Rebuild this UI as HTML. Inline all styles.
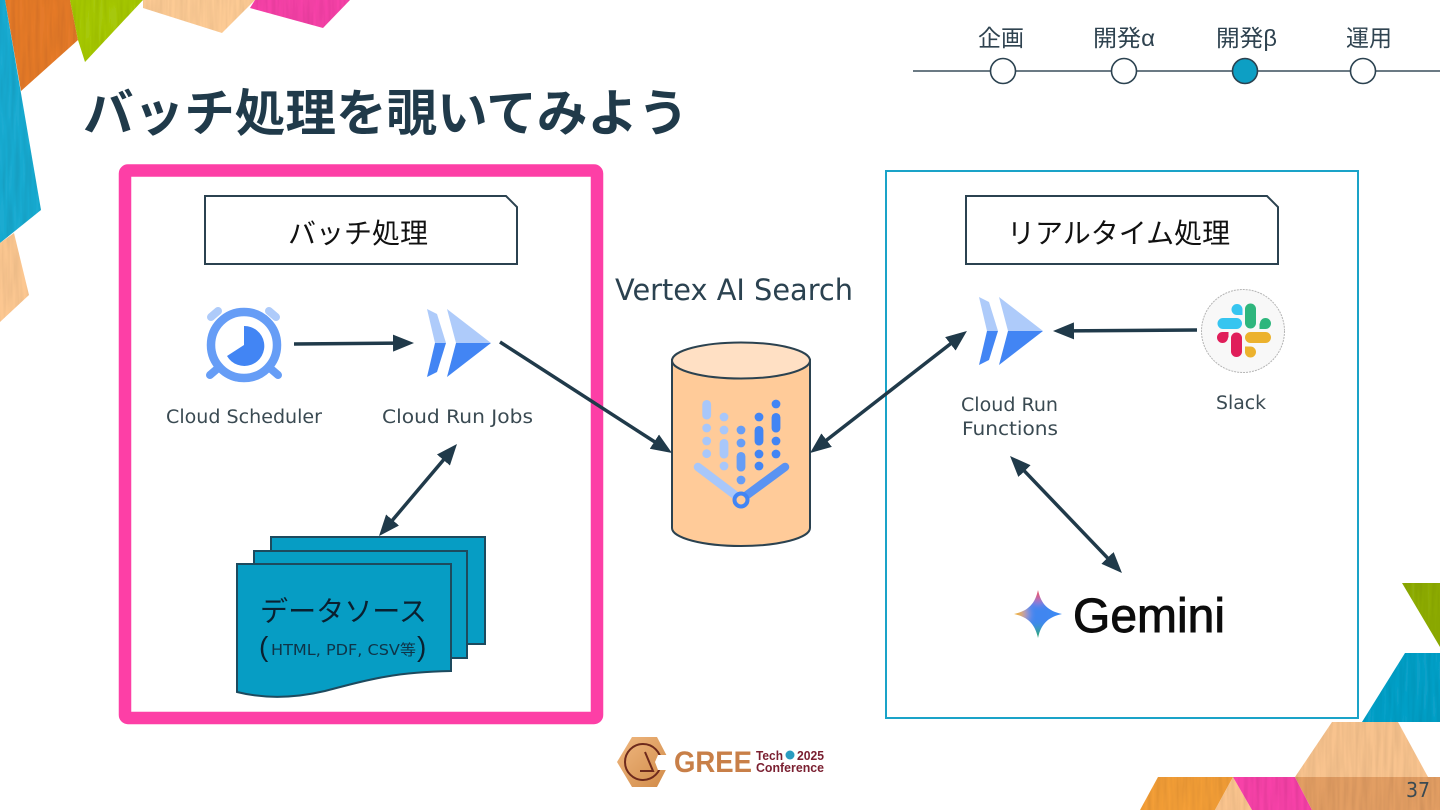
<!DOCTYPE html>
<html lang="ja"><head><meta charset="utf-8"><title>バッチ処理を覗いてみよう</title>
<style>
html,body{margin:0;padding:0;background:#fff;width:1440px;height:810px;overflow:hidden}
svg{display:block}
.j{font-family:"Liberation Sans","Noto Sans CJK JP",sans-serif}
.l{font-family:"DejaVu Sans","Noto Sans CJK JP",sans-serif}
</style></head><body>
<svg width="1440" height="810" viewBox="0 0 1440 810" xmlns="http://www.w3.org/2000/svg">
<defs>
<marker id="a" markerUnits="userSpaceOnUse" markerWidth="24" markerHeight="20" refX="6" refY="9" orient="auto-start-reverse"><path d="M0 0.500L21 9L0 17.500Z" fill="#203a4a"/></marker>
<linearGradient id="hx" x1="0" y1="0" x2="1" y2="1"><stop offset="0" stop-color="#f0b880"/><stop offset="1" stop-color="#d08a48"/></linearGradient>
<filter id="bl" x="-30%" y="-30%" width="160%" height="160%"><feGaussianBlur stdDeviation="4.500"/></filter>
<clipPath id="star"><path d="M1038 590C1041 604 1048 611 1062 614C1048 617 1041 624 1038 638C1035 624 1028 617 1014 614C1028 611 1035 604 1038 590Z"/></clipPath>
<filter id="wood" x="0" y="0" width="100%" height="100%"><feTurbulence type="fractalNoise" baseFrequency=".25 .02" numOctaves="2" seed="4" result="n"/><feColorMatrix in="n" type="matrix" values="0 0 0 0 0  0 0 0 0 0  0 0 0 0 0  .3 0 0 0 -.1" result="d"/><feComposite in="d" in2="SourceAlpha" operator="in" result="c"/><feMerge><feMergeNode in="SourceGraphic"/><feMergeNode in="c"/></feMerge></filter>
<g id="run"><path d="M427 309L437 314L446 343H435Z" fill="#aecbfa"/><path d="M435 343H446L437 372L427 377Z" fill="#4285f4"/><path d="M447 309L491 343H456Z" fill="#aecbfa"/><path d="M456 343H491L447 377Z" fill="#4285f4"/></g>
</defs>

<!-- corner decorations -->
<g filter="url(#wood)">
<path d="M5 0H70L78 40L21 91Z" fill="#e57a2c"/>
<path d="M70 0H143L85 62L78 40Z" fill="#a6c80f"/>
<path d="M143 0H255L222 33L143 8Z" fill="#fdcb94"/>
<path d="M255 0H350L323 28L250 8Z" fill="#f742a8"/>
<path d="M0 0H5L41 210L0 243Z" fill="#1fabd1"/>
<path d="M0 243L14 233L29 295L0 322Z" fill="#fcc791"/>
<path d="M1402 583H1440V647Z" fill="#8fad10"/>
<path d="M1405 653H1440V722H1362Z" fill="#10a0c8"/>
<path d="M1332 722H1398L1428 777H1295Z" fill="#f8c38e"/>
<path d="M1158 777H1233L1215 810H1140Z" fill="#f39e38"/>
<path d="M1233 777L1252 810H1215Z" fill="#fac48e"/>
<path d="M1233 777H1295L1312 810H1252Z" fill="#f742a8"/>
<path d="M1295 777H1440V810H1312Z" fill="#e29e64"/>
</g>
<text x="1406" y="797" class="l" font-size="20" fill="#3a4a52" textLength="24" lengthAdjust="spacingAndGlyphs">37</text>

<!-- title -->
<text x="83" y="131" class="j" font-size="50.600" font-weight="700" fill="#203a4a">バッチ処理を覗いてみよう</text>

<!-- progress nav -->
<line x1="913" y1="71" x2="1440" y2="71" stroke="#3a4f5c" stroke-width="1.500"/>
<g stroke="#2b4250" stroke-width="1.600" fill="#fff">
<circle cx="1003" cy="71" r="12.500"/><circle cx="1124" cy="71" r="12.500"/><circle cx="1245" cy="71" r="12.500" fill="#0d9fc4"/><circle cx="1363" cy="71" r="12.500"/>
</g>
<g class="j" font-size="23" fill="#2f4350">
<text x="978" y="46">企画</text>
<text x="1093" y="46" textLength="62" lengthAdjust="spacingAndGlyphs">開発α</text>
<text x="1216" y="46" textLength="61" lengthAdjust="spacingAndGlyphs">開発β</text>
<text x="1346" y="46">運用</text>
</g>

<!-- frames -->
<rect x="125" y="170.500" width="472" height="547.500" rx="3" fill="#fff" stroke="#fd3fa6" stroke-width="12.500"/>
<rect x="886" y="171" width="472" height="547" fill="#fff" stroke="#1aa3c8" stroke-width="2"/>

<!-- headings -->
<path d="M205 196H506L517 207V264H205Z" fill="#fff" stroke="#2b4250" stroke-width="2"/>
<text x="288" y="243" class="j" font-size="28" fill="#111">バッチ処理</text>
<path d="M966 196H1267L1278 207V264H966Z" fill="#fff" stroke="#2b4250" stroke-width="2"/>
<text x="1007" y="243" class="j" font-size="28" fill="#111">リアルタイム処理</text>

<!-- alarm clock -->
<circle cx="244" cy="345" r="33" fill="none" stroke="#669df6" stroke-width="8.500"/>
<path d="M244 345V326A20 20 0 1 1 227 356Z" fill="#4285f4"/>
<g stroke-linecap="round" stroke-width="8" fill="none">
<path d="M211 317L218 311M269 311L276 317" stroke="#aecbfa"/>
<path d="M210 375L217 369M271 369L278 375" stroke="#669df6"/>
</g>

<use href="#run"/>
<use href="#run" transform="translate(552 -12)"/>

<!-- labels -->
<g class="l" font-size="18.500" fill="#3a4a52">
<text x="166" y="423" textLength="156" lengthAdjust="spacingAndGlyphs">Cloud Scheduler</text>
<text x="382" y="423" textLength="151" lengthAdjust="spacingAndGlyphs">Cloud Run Jobs</text>
<text x="961" y="411" textLength="97" lengthAdjust="spacingAndGlyphs">Cloud Run</text>
<text x="962" y="435" textLength="96" lengthAdjust="spacingAndGlyphs">Functions</text>
<text x="1216" y="409" textLength="50" lengthAdjust="spacingAndGlyphs">Slack</text>
</g>
<text x="615" y="300" class="l" font-size="29" fill="#2b4250" textLength="238" lengthAdjust="spacingAndGlyphs">Vertex AI Search</text>

<!-- data source stack -->
<g fill="#069dc4" stroke="#1d4a5e" stroke-width="2">
<rect x="271" y="537" width="214" height="107"/>
<rect x="254" y="551" width="213" height="107"/>
<path d="M237 564H451V671C390 672 360 682 325 691C295 698 265 699 237 692Z"/>
</g>
<text x="260" y="621" class="j" font-size="28" fill="#0a2030" textLength="167" lengthAdjust="spacingAndGlyphs">データソース</text>
<text x="259" y="656" class="j" font-size="28" fill="#0a2030">(</text>
<text x="271" y="655" class="l" font-size="15" fill="#0f3448" textLength="145" lengthAdjust="spacingAndGlyphs">HTML, PDF, CSV等</text>
<text x="417" y="656" class="j" font-size="28" fill="#0a2030">)</text>

<!-- cylinder -->
<path d="M672 360V528C672 538 703 546 741 546S810 538 810 528V360Z" fill="#ffcb99" stroke="#2b4250" stroke-width="2"/>
<ellipse cx="741" cy="360.500" rx="69" ry="18" fill="#ffe0c4" stroke="#2b4250" stroke-width="2"/>
<g fill="#a8c7fa">
<rect x="702.300" y="400" width="8.800" height="19.500" rx="4.400"/>
<circle cx="706.700" cy="428" r="4.400"/><circle cx="706.700" cy="441" r="4.400"/><circle cx="706.700" cy="453.700" r="4.400"/>
<circle cx="724" cy="417" r="4.400"/><circle cx="724" cy="430" r="4.400"/>
<rect x="719.600" y="439" width="8.800" height="19.500" rx="4.400"/>
<circle cx="724" cy="466" r="4.400"/>
</g>
<g fill="#669df6">
<circle cx="741" cy="430" r="4.400"/><circle cx="741" cy="443" r="4.400"/>
<rect x="736.600" y="452" width="8.800" height="19.500" rx="4.400"/>
<circle cx="741" cy="480" r="4.400"/>
</g>
<g fill="#4285f4">
<circle cx="759" cy="417" r="4.400"/>
<rect x="754.600" y="426" width="8.800" height="19.500" rx="4.400"/>
<circle cx="759" cy="454" r="4.400"/><circle cx="759" cy="466" r="4.400"/>
<circle cx="776" cy="404" r="4.400"/>
<rect x="771.600" y="413" width="8.800" height="19.500" rx="4.400"/>
<circle cx="776" cy="441" r="4.400"/><circle cx="776" cy="454" r="4.400"/>
</g>
<g stroke-linecap="round" stroke-width="8.500" fill="none">
<path d="M698 467L735 495" stroke="#a8c7fa"/>
<path d="M785 467L747 495" stroke="#5a93f2"/>
</g>
<circle cx="741" cy="500" r="6.500" fill="#ffcb99" stroke="#4285f4" stroke-width="4"/>

<!-- slack -->
<circle cx="1243" cy="331" r="41.500" fill="#f8f8f8" stroke="#b5b5b5" stroke-width="1" stroke-dasharray="2 1"/>
<g stroke-width="11" stroke-linecap="round" fill="none">
<path d="M1223 323.500H1236.500M1237 309.500V309.500" stroke="#36c5f0"/>
<path d="M1250.500 309V323M1265.500 323.500V323.500" stroke="#2eb67d"/>
<path d="M1222.500 337.500V337.500M1236.500 338V351.500" stroke="#e01e5a"/>
<path d="M1250.500 337.500H1265.500M1250.500 352V352" stroke="#ecb22e"/>
</g>
<rect x="1237" y="309" width="5.500" height="6" fill="#36c5f0"/>
<rect x="1259.500" y="323.500" width="6" height="5.500" fill="#2eb67d"/>
<rect x="1222.500" y="332" width="6" height="5.500" fill="#e01e5a"/>
<rect x="1245" y="346.500" width="5.500" height="6" fill="#ecb22e"/>

<!-- gemini -->
<g clip-path="url(#star)"><g filter="url(#bl)">
<rect x="1005" y="585" width="70" height="60" fill="#3f86f0"/>
<circle cx="1016" cy="614" r="10" fill="#f0b020"/>
<circle cx="1038" cy="592" r="9" fill="#e85560"/>
<circle cx="1038" cy="636" r="8" fill="#2ea860"/>
<circle cx="1060" cy="614" r="8" fill="#3a8cf5"/>
</g></g>
<text x="1073" y="632" font-family="Liberation Sans,sans-serif" font-size="48" fill="#0c0c0c" stroke="#0c0c0c" stroke-width=".9" textLength="152" lengthAdjust="spacingAndGlyphs">Gemini</text>

<!-- arrows -->
<g stroke="#203a4a" stroke-width="3.500" fill="none">
<line x1="294" y1="344" x2="399" y2="343.100" marker-end="url(#a)"/>
<line x1="500" y1="342" x2="659.400" y2="444.900" marker-end="url(#a)"/>
<line x1="447.300" y1="455.400" x2="388.700" y2="524.600" marker-start="url(#a)" marker-end="url(#a)"/>
<line x1="955.100" y1="340.200" x2="821.900" y2="443.800" marker-start="url(#a)" marker-end="url(#a)"/>
<line x1="1197" y1="330" x2="1068" y2="330.900" marker-end="url(#a)"/>
<line x1="1020.400" y1="466.800" x2="1111.600" y2="562.200" marker-start="url(#a)" marker-end="url(#a)"/>
</g>

<!-- conference logo -->
<path d="M632 737H657L670 762L657 787H632L617 762Z" fill="url(#hx)"/>
<circle cx="643" cy="762" r="18" fill="none" stroke="#6e2a1c" stroke-width="2"/>
<path d="M645 752L653 771H640" fill="none" stroke="#6e2a1c" stroke-width="2"/>
<path d="M658 755H672V770H658L655 762Z" fill="#fff"/>
<text x="674" y="772" font-family="Liberation Sans,sans-serif" font-size="30" font-weight="700" fill="#c87f48" textLength="78" lengthAdjust="spacingAndGlyphs">GREE</text>
<g font-family="Liberation Sans,sans-serif" font-size="12.500" font-weight="700" fill="#7a1f30">
<text x="756" y="760" textLength="27" lengthAdjust="spacingAndGlyphs">Tech</text>
<text x="797" y="760" textLength="27" lengthAdjust="spacingAndGlyphs">2025</text>
<text x="756" y="772" textLength="68" lengthAdjust="spacingAndGlyphs">Conference</text>
</g>
<circle cx="790" cy="755" r="4.500" fill="#2a9cc0"/>
</svg>
</body></html>
